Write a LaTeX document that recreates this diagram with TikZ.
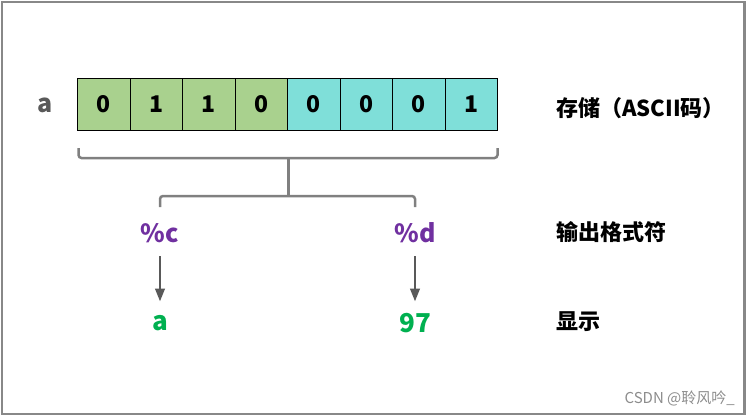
\documentclass[tikz,border=0pt]{standalone}
\usepackage{fontspec}
\setmainfont{Liberation Sans}
\newfontfamily\cjk{Noto Sans CJK SC}
\usetikzlibrary{arrows.meta,positioning}
\definecolor{cellgreen}{HTML}{A9D18E}
\definecolor{cellcyan}{HTML}{7FDFD9}
\definecolor{framegray}{HTML}{888888}
\definecolor{bracegray}{HTML}{808080}
\definecolor{arrowgray}{HTML}{595959}
\definecolor{fmtpurple}{HTML}{7030A0}
\definecolor{outgreen}{HTML}{00B050}
\tikzset{
  cell/.style={draw=black, line width=1pt, minimum width=52.5pt, minimum height=52pt,
    inner sep=0pt, outer sep=0pt, font=\cjk\fontsize{23}{23}\selectfont\bfseries},
  gcell/.style={cell, fill=cellgreen},
  ccell/.style={cell, fill=cellcyan},
  rlabel/.style={anchor=west, inner sep=0pt, font=\cjk\fontsize{22}{22}\selectfont\bfseries},
  fmt/.style={inner sep=0pt, text=fmtpurple, font=\cjk\fontsize{25}{25}\selectfont\bfseries},
  outv/.style={inner sep=0pt, text=outgreen, font=\cjk\fontsize{26}{26}\selectfont\bfseries},
  brace/.style={draw=bracegray, line width=2.5pt, rounded corners=3pt},
  flow/.style={draw=arrowgray, line width=2.6pt, -{Triangle[length=13pt,width=9.5pt]}},
}
\begin{document}
\begin{tikzpicture}[x=1pt,y=-1pt]
\useasboundingbox (0,0) rectangle (748,416);
\draw[framegray, line width=2.3pt] (2.2,2.2) rectangle (744.5,414);

\node[gcell] (c1) at (103.75,104) {0};
\node[gcell] (c2) at (156.25,104) {1};
\node[gcell] (c3) at (208.75,104) {1};
\node[gcell] (c4) at (261.25,104) {0};
\node[ccell] (c5) at (313.75,104) {0};
\node[ccell] (c6) at (366.25,104) {0};
\node[ccell] (c7) at (418.75,104) {0};
\node[ccell] (c8) at (471.25,104) {1};

\node[inner sep=0pt, text=arrowgray, font=\cjk\fontsize{25}{25}\selectfont\bfseries] (la) at (45,105) {a};

\coordinate (bl) at (78.5,148);
\coordinate (br) at (497.5,148);
\coordinate (bm) at (288.3,158);
\coordinate (bj) at (288.3,196);
\coordinate (dl) at (160,207);
\coordinate (dr) at (415,207);
\draw[brace] (bl) -- (bl |- bm) -- (br |- bm) -- (br);
\draw[brace] (bm) -- (bj);
\draw[brace] (dl) -- (dl |- bj) -- (dr |- bj) -- (dr);

\node[fmt] (pc) at (160,233) {\%c};
\node[fmt] (pd) at (415,233) {\%d};
\node[outv] (oa) at (160,323) {a};
\node[outv] (od) at (415,323) {97};
\draw[flow] (pc.south |- 0,256) -- (oa.north |- 0,301.5);
\draw[flow] (pd.south |- 0,256) -- (od.north |- 0,301.5);

\node[rlabel] (l1) at (556,108) {存储（ASCII码）};
\node[rlabel] (l2) at (556,232) {输出格式符};
\node[rlabel] (l3) at (556,322) {显示};

\node[anchor=east, inner sep=0pt, text=black!45, font=\cjk\fontsize{15}{15}\selectfont] (wm) at (735,398) {CSDN @聆风吟\_};
\end{tikzpicture}
\end{document}
